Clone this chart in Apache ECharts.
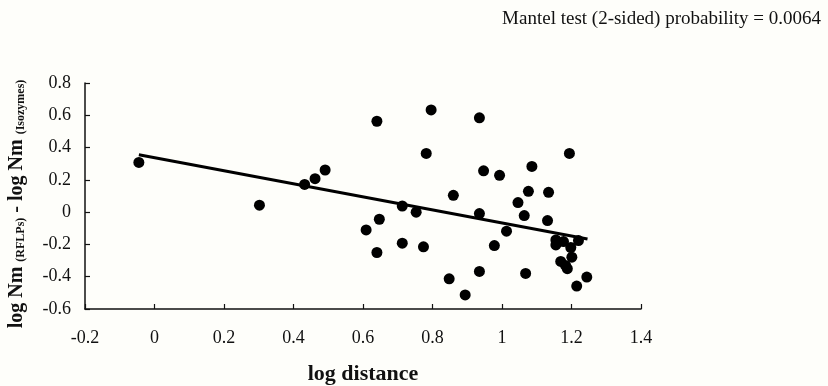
<!DOCTYPE html>
<html>
<head>
<meta charset="utf-8">
<script src="https://cdn.jsdelivr.net/npm/echarts@6/dist/echarts.min.js"></script>
<style>
  html, body { margin: 0; padding: 0; background: #fefefa; }
  #chart { width: 828px; height: 386px; }
</style>
</head>
<body>
<div id="chart"></div>
<script>
// log distance vs. difference of log Nm estimates
const logDistance = [
  -0.045, 0.302, 0.432, 0.462, 0.491, 0.640, 0.647, 0.609, 0.640,
  0.796, 0.935, 0.782, 1.194, 0.947, 0.993, 1.086, 0.860, 1.076,
  1.134, 1.046, 0.713, 0.753, 0.935, 1.064, 1.131, 1.013, 0.713,
  0.774, 0.978, 1.155, 1.155, 1.177, 1.198, 1.220, 1.201, 1.169,
  1.183, 1.188, 0.935, 1.068, 0.848, 1.244, 1.215, 0.894
];
const diffLogNm = [
  0.308, 0.043, 0.172, 0.207, 0.261, 0.563, -0.044, -0.110, -0.250,
  0.633, 0.584, 0.364, 0.364, 0.256, 0.228, 0.283, 0.104, 0.129,
  0.123, 0.059, 0.038, 0.000, -0.009, -0.021, -0.052, -0.118, -0.192,
  -0.215, -0.207, -0.172, -0.203, -0.182, -0.219, -0.176, -0.279, -0.305,
  -0.330, -0.350, -0.367, -0.380, -0.413, -0.402, -0.458, -0.513
];
// fitted regression line end points
const fitX = [-0.045, 1.246];
const fitY = [0.355, -0.166];

const serif = "'Liberation Serif', 'DejaVu Serif', serif";

const chart = echarts.init(document.getElementById('chart'));
chart.setOption({
  backgroundColor: '#fefefa',
  animation: false,
  title: {
    text: 'Mantel test (2-sided) probability = 0.0064',
    right: 2,
    top: 5,
    textStyle: { fontFamily: serif, fontSize: 19, fontWeight: 'normal', color: '#111' }
  },
  grid: { left: 85, right: 187, top: 83, bottom: 77, containLabel: false, outerBoundsMode: 'none' },
  xAxis: {
    type: 'value',
    min: -0.2,
    max: 1.4,
    interval: 0.2,
    name: 'log distance',
    nameLocation: 'middle',
    nameGap: 54,
    nameTextStyle: { fontFamily: serif, fontSize: 22, fontWeight: 'bold', color: '#111' },
    axisLine: { onZero: false, lineStyle: { color: '#111', width: 1.5 } },
    axisTick: { inside: true, length: 5, lineStyle: { color: '#111', width: 1.2 } },
    axisLabel: { fontFamily: serif, fontSize: 18, color: '#111', margin: 20 },
    splitLine: { show: false }
  },
  yAxis: {
    type: 'value',
    min: -0.6,
    max: 0.8,
    interval: 0.2,
    name: '{a|log Nm }{s|(RFLPs)}{a| - log Nm }{s|(Isozymes)}',
    nameLocation: 'middle',
    nameRotate: 90,
    nameGap: 58,
    nameTextStyle: {
      fontFamily: serif, color: '#111',
      padding: [0, 16, 0, 0],
      rich: {
        a: { fontFamily: serif, fontSize: 20, fontWeight: 'bold', color: '#111', verticalAlign: 'bottom' },
        s: { fontFamily: serif, fontSize: 12, fontWeight: 'bold', color: '#111', verticalAlign: 'bottom' }
      }
    },
    axisLine: { show: true, onZero: false, lineStyle: { color: '#111', width: 1.5 } },
    axisTick: { show: true, inside: true, length: 5, lineStyle: { color: '#111', width: 1.2 } },
    axisLabel: { fontFamily: serif, fontSize: 18, color: '#111', margin: 14 },
    splitLine: { show: false }
  },
  series: [
    {
      type: 'scatter',
      symbolSize: 11,
      itemStyle: { color: '#000', opacity: 1 },
      data: logDistance.map((x, i) => [x, diffLogNm[i]])
    },
    {
      type: 'line',
      symbol: 'none',
      lineStyle: { color: '#000', width: 3 },
      data: fitX.map((x, i) => [x, fitY[i]])
    }
  ]
});
</script>
</body>
</html>
